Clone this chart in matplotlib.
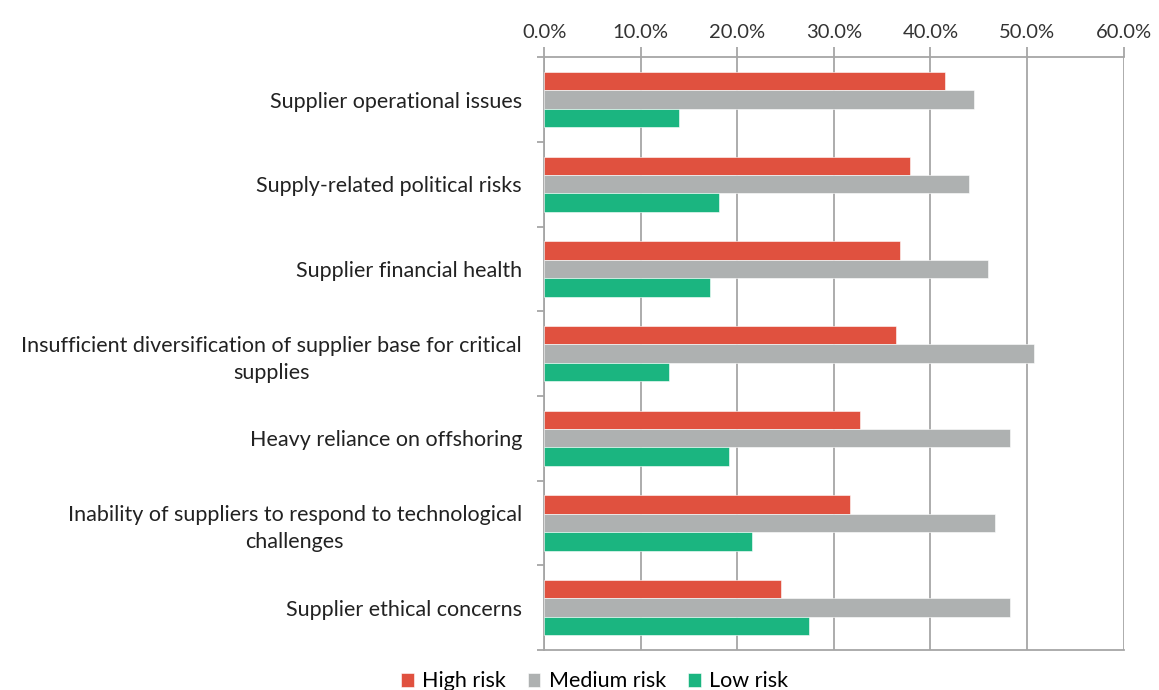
import numpy as np
import matplotlib.pyplot as plt

categories = [
    "Supplier operational issues",
    "Supply-related political risks",
    "Supplier financial health",
    "Insufficient diversification of supplier base for critical\nsupplies",
    "Heavy reliance on offshoring",
    "Inability of suppliers to respond to technological\nchallenges",
    "Supplier ethical concerns",
]
high_risk = [41.5, 37.9, 36.8, 36.4, 32.7, 31.7, 24.5]
medium_risk = [44.5, 44.0, 46.0, 50.7, 48.2, 46.7, 48.2]
low_risk = [14.0, 18.1, 17.2, 12.9, 19.1, 21.5, 27.4]
series_names = ["High risk", "Medium risk", "Low risk"]
colors = ["#E0513F", "#AEB1B1", "#1BB580"]
xticks = [0, 10, 20, 30, 40, 50, 60]

plt.rcParams['font.family'] = ['Lato', 'DejaVu Sans']
grid_c = "#A6A6A6"

fig = plt.figure(figsize=(11.59, 6.90), dpi=100)
ax = fig.add_axes([0.4695, 0.058, 0.5, 0.859])

y = np.arange(len(categories))
h = 0.217
for i, (vals, name, c) in enumerate(zip([high_risk, medium_risk, low_risk], series_names, colors)):
    ax.barh(y + (i - 1) * h, vals, height=h, color=c, label=name,
            edgecolor="white", linewidth=0.4, zorder=3)

ax.set_xlim(0, 60)
ax.set_ylim(len(categories) - 0.5, -0.5)
ax.xaxis.tick_top()
ax.set_xticks(xticks)
ax.set_xticklabels([f"{t:.1f}%" for t in xticks], fontsize=14.5, color="#333333")
ax.tick_params(axis="x", length=7, width=1.3, color=grid_c, pad=5)
ax.grid(axis="x", color=grid_c, linewidth=1.3, zorder=0)

# boundary ticks on the left, labels sit in between
ax.set_yticks(np.arange(len(categories) + 1) - 0.5, minor=False)
ax.set_yticklabels([])
ax.set_yticks(y, minor=True)
ax.set_yticklabels(categories, minor=True, fontsize=15.5, color="#222222",
                   multialignment="center", linespacing=1.45)
ax.tick_params(axis="y", which="major", length=5, width=1.3, color=grid_c)
ax.tick_params(axis="y", which="minor", length=0, pad=16)

for s in ["left", "top", "bottom"]:
    ax.spines[s].set_color(grid_c)
    ax.spines[s].set_linewidth(1.3)
ax.spines["right"].set_visible(False)

fig.legend(loc="lower center", bbox_to_anchor=(0.513, -0.03), ncol=3, frameon=False,
           fontsize=15.5, handlelength=0.6, handleheight=0.6, handletextpad=0.4,
           columnspacing=1.0)

fig.savefig("out.png", dpi=100)
